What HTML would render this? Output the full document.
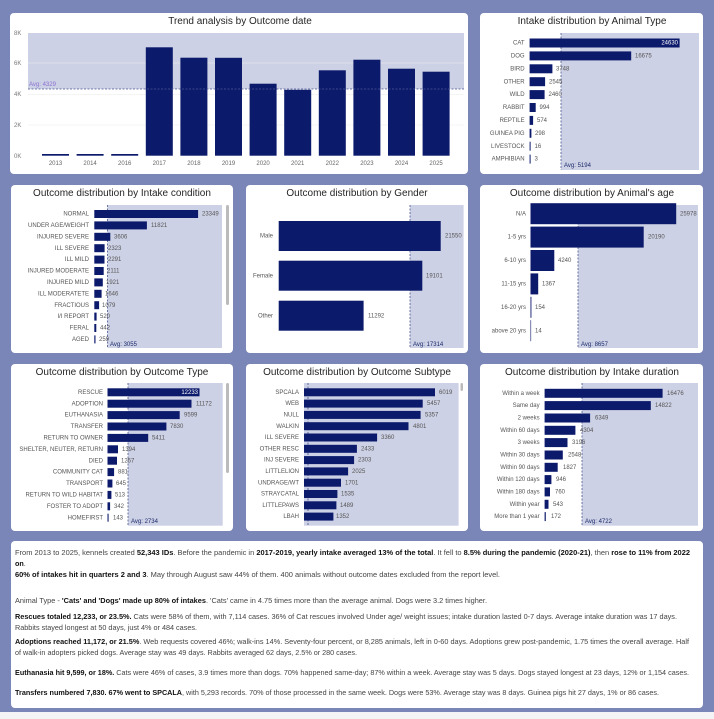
<!DOCTYPE html>
<html><head><meta charset="utf-8"><style>
html,body{margin:0;padding:0;background:#7b86b8;}
svg{display:block;font-family:"Liberation Sans",sans-serif;}
.t{font-size:10px;fill:#252525;text-anchor:middle}
.l{font-size:6px;fill:#555;text-anchor:end;dominant-baseline:middle}
.v{font-size:6px;fill:#555;dominant-baseline:middle}
.w{font-size:6px;fill:#fff;text-anchor:end;dominant-baseline:middle}
.a{font-size:6px;fill:#1a2a6a}
.b{fill:#0c1a6c}
.s{fill:#cdd1e5}
.d{stroke:#4a5690;stroke-width:0.8;stroke-dasharray:2,1.5}
.p{font-size:7.2px;fill:#444}
.p tspan.k{font-weight:bold;fill:#111}
</style></head><body>
<svg width="714" height="719" viewBox="0 0 714 719" xmlns="http://www.w3.org/2000/svg">
<rect x="0" y="0" width="714" height="719" fill="#7b86b8"/>
<rect x="0" y="712" width="714" height="7" fill="#f4f4f6"/>
<!-- cards -->
<rect x="10" y="13" width="458" height="161" rx="4" fill="#fff"/>
<rect x="480" y="13" width="223" height="161" rx="4" fill="#fff"/>
<rect x="11" y="185" width="222" height="168" rx="4" fill="#fff"/>
<rect x="246" y="185" width="222" height="168" rx="4" fill="#fff"/>
<rect x="480" y="185" width="223" height="168" rx="4" fill="#fff"/>
<rect x="11" y="364" width="222" height="167" rx="4" fill="#fff"/>
<rect x="246" y="364" width="222" height="167" rx="4" fill="#fff"/>
<rect x="480" y="364" width="223" height="167" rx="4" fill="#fff"/>
<rect x="11" y="541" width="692" height="167" rx="4" fill="#fff"/>

<!-- Trend -->
<text class="t" x="240" y="24">Trend analysis by Outcome date</text>
<rect class="s" x="28" y="33" width="436" height="56"/>
<g stroke="#eee" stroke-width="0.6"><line x1="28" y1="63" x2="464" y2="63"/><line x1="28" y1="94.6" x2="464" y2="94.6"/><line x1="28" y1="125" x2="464" y2="125"/></g>
<g font-size="6" fill="#777"><text x="14" y="35">8K</text><text x="14" y="65">6K</text><text x="14" y="96">4K</text><text x="14" y="127">2K</text><text x="14" y="158">0K</text></g>
<g class="b">
<rect x="42" y="154" width="27" height="1.7"/><rect x="76.6" y="154" width="27" height="1.7"/><rect x="111.2" y="154" width="27" height="1.7"/>
<rect x="145.8" y="47.3" width="27" height="108.4"/><rect x="180.4" y="57.7" width="27" height="98"/><rect x="215" y="57.8" width="27" height="97.9"/>
<rect x="249.6" y="83.7" width="27" height="72"/><rect x="284.2" y="89.7" width="27" height="66"/><rect x="318.8" y="70.3" width="27" height="85.4"/>
<rect x="353.4" y="59.7" width="27" height="96"/><rect x="388" y="68.7" width="27" height="87"/><rect x="422.6" y="71.7" width="27" height="84"/>
</g>
<line class="d" x1="28" y1="89" x2="464" y2="89"/>
<text x="29" y="86" font-size="6" fill="#8a6fd0">Avg: 4329</text>
<g font-size="6" fill="#666" text-anchor="middle">
<text x="55.5" y="165">2013</text><text x="90.1" y="165">2014</text><text x="124.7" y="165">2016</text><text x="159.3" y="165">2017</text><text x="193.9" y="165">2018</text><text x="228.5" y="165">2019</text><text x="263.1" y="165">2020</text><text x="297.7" y="165">2021</text><text x="332.3" y="165">2022</text><text x="366.9" y="165">2023</text><text x="401.5" y="165">2024</text><text x="436.1" y="165">2025</text>
</g>

<!-- Animal type -->
<text class="t" x="592" y="24">Intake distribution by Animal Type</text>
<rect class="s" x="561" y="33" width="138" height="137"/>
<line class="d" x1="561" y1="33" x2="561" y2="170"/>
<g class="b">
<rect x="529.6" y="38.5" width="150" height="9"/><rect x="529.6" y="51.4" width="101.6" height="9"/><rect x="529.6" y="64.3" width="22.8" height="9"/><rect x="529.6" y="77.2" width="15.5" height="9"/><rect x="529.6" y="90.1" width="15" height="9"/><rect x="529.6" y="103" width="6.1" height="9"/><rect x="529.6" y="115.9" width="3.5" height="9"/><rect x="529.6" y="128.8" width="1.8" height="9"/><rect x="529.6" y="141.7" width="1" height="9"/><rect x="529.6" y="154.6" width="1" height="9"/>
</g>
<g class="l"><text x="524.6" y="43">CAT</text><text x="524.6" y="55.9">DOG</text><text x="524.6" y="68.8">BIRD</text><text x="524.6" y="81.7">OTHER</text><text x="524.6" y="94.6">WILD</text><text x="524.6" y="107.5">RABBIT</text><text x="524.6" y="120.4">REPTILE</text><text x="524.6" y="133.3">GUINEA PIG</text><text x="524.6" y="146.2">LIVESTOCK</text><text x="524.6" y="159.1">AMPHIBIAN</text></g>
<text class="w" x="678" y="43">24630</text>
<g class="v"><text x="635" y="55.9">16675</text><text x="556" y="68.8">3748</text><text x="549" y="81.7">2545</text><text x="548.5" y="94.6">2460</text><text x="539.5" y="107.5">994</text><text x="537" y="120.4">574</text><text x="535" y="133.3">298</text><text x="534.5" y="146.2">16</text><text x="534.5" y="159.1">3</text></g>
<text class="a" x="564" y="167">Avg: 5194</text>

<!-- Intake condition -->
<text class="t" x="122" y="196">Outcome distribution by Intake condition</text>
<rect class="s" x="107.5" y="205" width="114.5" height="143"/>
<line class="d" x1="107.5" y1="205" x2="107.5" y2="348"/>
<rect x="226" y="205" width="3" height="100" rx="1.5" fill="#bbb"/>
<g class="b">
<rect x="94.3" y="210" width="103.8" height="8"/><rect x="94.3" y="221.4" width="52.6" height="8"/><rect x="94.3" y="232.8" width="16" height="8"/><rect x="94.3" y="244.2" width="10.3" height="8"/><rect x="94.3" y="255.6" width="10.2" height="8"/><rect x="94.3" y="267" width="9.4" height="8"/><rect x="94.3" y="278.4" width="8.5" height="8"/><rect x="94.3" y="289.8" width="7.3" height="8"/><rect x="94.3" y="301.2" width="4.8" height="8"/><rect x="94.3" y="312.6" width="2.3" height="8"/><rect x="94.3" y="324" width="2" height="8"/><rect x="94.3" y="335.4" width="1.2" height="8"/>
</g>
<g class="l"><text x="89" y="214">NORMAL</text><text x="89" y="225.4">UNDER AGE/WEIGHT</text><text x="89" y="236.8">INJURED SEVERE</text><text x="89" y="248.2">ILL SEVERE</text><text x="89" y="259.6">ILL MILD</text><text x="89" y="271">INJURED MODERATE</text><text x="89" y="282.4">INJURED MILD</text><text x="89" y="293.8">ILL MODERATETE</text><text x="89" y="305.2">FRACTIOUS</text><text x="89" y="316.6">I/I REPORT</text><text x="89" y="328">FERAL</text><text x="89" y="339.4">AGED</text></g>
<g class="v"><text x="202" y="214">23349</text><text x="151" y="225.4">11821</text><text x="114" y="236.8">3606</text><text x="108" y="248.2">2323</text><text x="108" y="259.6">2291</text><text x="107" y="271">2111</text><text x="106" y="282.4">1921</text><text x="105" y="293.8">1646</text><text x="102" y="305.2">1079</text><text x="100" y="316.6">520</text><text x="100" y="328">442</text><text x="99" y="339.4">259</text></g>
<text class="a" x="110" y="346">Avg: 3055</text>

<!-- Gender -->
<text class="t" x="357" y="196">Outcome distribution by Gender</text>
<rect class="s" x="410" y="205" width="53.6" height="143"/>
<line class="d" x1="410" y1="205" x2="410" y2="348"/>
<g class="b"><rect x="278.7" y="221" width="162" height="30"/><rect x="278.7" y="260.7" width="143.6" height="30"/><rect x="278.7" y="300.7" width="84.9" height="30"/></g>
<g class="l"><text x="273" y="236">Male</text><text x="273" y="275.7">Female</text><text x="273" y="315.7">Other</text></g>
<g class="v"><text x="445" y="236">21550</text><text x="426" y="275.7">19101</text><text x="368" y="315.7">11292</text></g>
<text class="a" x="413" y="346">Avg: 17314</text>

<!-- Age -->
<text class="t" x="592" y="196">Outcome distribution by Animal's age</text>
<rect class="s" x="578" y="205" width="120" height="143"/>
<line class="d" x1="578" y1="205" x2="578" y2="348"/>
<g class="b"><rect x="530.5" y="203.2" width="145.7" height="21"/><rect x="530.5" y="226.6" width="113.2" height="21"/><rect x="530.5" y="250" width="23.8" height="21"/><rect x="530.5" y="273.4" width="7.7" height="21"/><rect x="530.5" y="296.8" width="0.9" height="21"/><rect x="530.5" y="320.2" width="0.6" height="21"/></g>
<g class="l"><text x="526" y="213.7">N/A</text><text x="526" y="237.1">1-5 yrs</text><text x="526" y="260.5">6-10 yrs</text><text x="526" y="283.9">11-15 yrs</text><text x="526" y="307.3">16-20 yrs</text><text x="526" y="330.7">above 20 yrs</text></g>
<g class="v"><text x="680" y="213.7">25978</text><text x="648" y="237.1">20190</text><text x="558" y="260.5">4240</text><text x="542" y="283.9">1367</text><text x="535" y="307.3">154</text><text x="535" y="330.7">14</text></g>
<text class="a" x="581" y="346">Avg: 8657</text>

<!-- Outcome type -->
<text class="t" x="122" y="375">Outcome distribution by Outcome Type</text>
<rect class="s" x="128" y="383" width="94.7" height="142.7"/>
<line class="d" x1="128" y1="383" x2="128" y2="525.7"/>
<rect x="226" y="383" width="3" height="90" rx="1.5" fill="#bbb"/>
<g class="b">
<rect x="107.5" y="388.3" width="92" height="8"/><rect x="107.5" y="399.7" width="84" height="8"/><rect x="107.5" y="411.1" width="72.2" height="8"/><rect x="107.5" y="422.5" width="58.9" height="8"/><rect x="107.5" y="433.9" width="40.7" height="8"/><rect x="107.5" y="445.3" width="10.5" height="8"/><rect x="107.5" y="456.7" width="9.5" height="8"/><rect x="107.5" y="468.1" width="6.6" height="8"/><rect x="107.5" y="479.5" width="4.9" height="8"/><rect x="107.5" y="490.9" width="3.9" height="8"/><rect x="107.5" y="502.3" width="2.6" height="8"/><rect x="107.5" y="513.7" width="1.1" height="8"/>
</g>
<g class="l"><text x="103" y="392.3">RESCUE</text><text x="103" y="403.7">ADOPTION</text><text x="103" y="415.1">EUTHANASIA</text><text x="103" y="426.5">TRANSFER</text><text x="103" y="437.9">RETURN TO OWNER</text><text x="103" y="449.3">SHELTER, NEUTER, RETURN</text><text x="103" y="460.7">DIED</text><text x="103" y="472.1">COMMUNITY CAT</text><text x="103" y="483.5">TRANSPORT</text><text x="103" y="494.9">RETURN TO WILD HABITAT</text><text x="103" y="506.3">FOSTER TO ADOPT</text><text x="103" y="517.7">HOMEFIRST</text></g>
<text class="w" x="198" y="392.3">12233</text>
<g class="v"><text x="196" y="403.7">11172</text><text x="184" y="415.1">9599</text><text x="170" y="426.5">7830</text><text x="152" y="437.9">5411</text><text x="122" y="449.3">1394</text><text x="121" y="460.7">1257</text><text x="118" y="472.1">881</text><text x="116" y="483.5">645</text><text x="115" y="494.9">513</text><text x="114" y="506.3">342</text><text x="113" y="517.7">143</text></g>
<text class="a" x="131" y="523">Avg: 2734</text>

<!-- Subtype -->
<text class="t" x="357" y="375">Outcome distribution by Outcome Subtype</text>
<rect class="s" x="304" y="383" width="154.6" height="142.7"/>
<line class="d" x1="308" y1="383" x2="308" y2="525.7"/>
<rect x="460.5" y="383" width="2.5" height="8" rx="1.2" fill="#bbb"/>
<g class="b">
<rect x="304" y="388.3" width="131" height="8"/><rect x="304" y="399.6" width="118.7" height="8"/><rect x="304" y="410.9" width="116.6" height="8"/><rect x="304" y="422.2" width="104.5" height="8"/><rect x="304" y="433.5" width="73.1" height="8"/><rect x="304" y="444.8" width="52.9" height="8"/><rect x="304" y="456.1" width="50.1" height="8"/><rect x="304" y="467.4" width="44.1" height="8"/><rect x="304" y="478.7" width="37" height="8"/><rect x="304" y="490" width="33.4" height="8"/><rect x="304" y="501.3" width="32.4" height="8"/><rect x="304" y="512.6" width="29.4" height="8"/>
</g>
<g class="l"><text x="299" y="392.3">SPCALA</text><text x="299" y="403.6">WEB</text><text x="299" y="414.9">NULL</text><text x="299" y="426.2">WALKIN</text><text x="299" y="437.5">ILL SEVERE</text><text x="299" y="448.8">OTHER RESC</text><text x="299" y="460.1">INJ SEVERE</text><text x="299" y="471.4">LITTLELION</text><text x="299" y="482.7">UNDRAGE/WT</text><text x="299" y="494">STRAYCATAL</text><text x="299" y="505.3">LITTLEPAWS</text><text x="299" y="516.6">LBAH</text></g>
<g class="v"><text x="439" y="392.3">6019</text><text x="427" y="403.6">5457</text><text x="425" y="414.9">5357</text><text x="413" y="426.2">4801</text><text x="381" y="437.5">3360</text><text x="361" y="448.8">2433</text><text x="358" y="460.1">2303</text><text x="352" y="471.4">2025</text><text x="345" y="482.7">1701</text><text x="341" y="494">1535</text><text x="340" y="505.3">1489</text><text x="336" y="516.6">1352</text></g>

<!-- Duration -->
<text class="t" x="592" y="375">Outcome distribution by Intake duration</text>
<rect class="s" x="582" y="383" width="116" height="142.7"/>
<line class="d" x1="582" y1="383" x2="582" y2="525.7"/>
<g class="b">
<rect x="544.6" y="388.8" width="118" height="9"/><rect x="544.6" y="401.1" width="106.2" height="9"/><rect x="544.6" y="413.5" width="45.5" height="9"/><rect x="544.6" y="425.8" width="30.8" height="9"/><rect x="544.6" y="438.1" width="22.9" height="9"/><rect x="544.6" y="450.5" width="18.2" height="9"/><rect x="544.6" y="462.8" width="13.1" height="9"/><rect x="544.6" y="475.1" width="6.8" height="9"/><rect x="544.6" y="487.4" width="5.4" height="9"/><rect x="544.6" y="499.8" width="3.9" height="9"/><rect x="544.6" y="512.1" width="1.2" height="9"/>
</g>
<g class="l"><text x="539.6" y="393.3">Within a week</text><text x="539.6" y="405.6">Same day</text><text x="539.6" y="418">2 weeks</text><text x="539.6" y="430.3">Within 60 days</text><text x="539.6" y="442.6">3 weeks</text><text x="539.6" y="455">Within 30 days</text><text x="539.6" y="467.3">Within 90 days</text><text x="539.6" y="479.6">Within 120 days</text><text x="539.6" y="491.9">Within 180 days</text><text x="539.6" y="504.3">Within year</text><text x="539.6" y="516.6">More than 1 year</text></g>
<g class="v"><text x="667" y="393.3">16476</text><text x="655" y="405.6">14822</text><text x="595" y="418">6349</text><text x="580" y="430.3">4304</text><text x="572" y="442.6">3196</text><text x="568" y="455">2548</text><text x="563" y="467.3">1827</text><text x="556" y="479.6">946</text><text x="555" y="491.9">760</text><text x="553" y="504.3">543</text><text x="551" y="516.6">172</text></g>
<text class="a" x="585" y="523">Avg: 4722</text>

<!-- Text -->
<g class="p">
<text x="15" y="555" textLength="675" lengthAdjust="spacingAndGlyphs">From 2013 to 2025, kennels created <tspan class="k">52,343 IDs</tspan>. Before the pandemic in <tspan class="k">2017-2019, yearly intake averaged 13% of the total</tspan>. It fell to <tspan class="k">8.5% during the pandemic (2020-21)</tspan>, then <tspan class="k">rose to 11% from 2022</tspan></text>
<text x="15" y="566"><tspan class="k">on</tspan>.</text>
<text x="15" y="577" textLength="485" lengthAdjust="spacingAndGlyphs"><tspan class="k">60% of intakes hit in quarters 2 and 3</tspan>. May through August saw 44% of them. 400 animals without outcome dates excluded from the report level.</text>
<text x="15" y="603" textLength="472" lengthAdjust="spacingAndGlyphs">Animal Type - <tspan class="k">'Cats' and 'Dogs' made up 80% of intakes</tspan>. 'Cats' came in 4.75 times more than the average animal. Dogs were 3.2 times higher.</text>
<text x="15" y="619" textLength="662" lengthAdjust="spacingAndGlyphs"><tspan class="k">Rescues totaled 12,233, or 23.5%.</tspan> Cats were 58% of them, with 7,114 cases. 36% of Cat rescues involved Under age/ weight issues; intake duration lasted 0-7 days. Average intake duration was 17 days.</text>
<text x="15" y="630" textLength="182" lengthAdjust="spacingAndGlyphs">Rabbits stayed longest at 50 days, just 4% or 484 cases.</text>
<text x="15" y="644" textLength="674" lengthAdjust="spacingAndGlyphs"><tspan class="k">Adoptions reached 11,172, or 21.5%</tspan>. Web requests covered 46%; walk-ins 14%. Seventy-four percent, or 8,285 animals, left in 0-60 days. Adoptions grew post-pandemic, 1.75 times the overall average. Half</text>
<text x="15" y="655" textLength="342" lengthAdjust="spacingAndGlyphs">of walk-in adopters picked dogs. Average stay was 49 days. Rabbits averaged 62 days, 2.5% or 280 cases.</text>
<text x="15" y="675" textLength="674" lengthAdjust="spacingAndGlyphs"><tspan class="k">Euthanasia hit 9,599, or 18%.</tspan> Cats were 46% of cases, 3.9 times more than dogs. 70% happened same-day; 87% within a week. Average stay was 5 days. Dogs stayed longest at 23 days, 12% or 1,154 cases.</text>
<text x="15" y="695" textLength="644" lengthAdjust="spacingAndGlyphs"><tspan class="k">Transfers numbered 7,830. 67% went to SPCALA</tspan>, with 5,293 records. 70% of those processed in the same week. Dogs were 53%. Average stay was 8 days. Guinea pigs hit 27 days, 1% or 86 cases.</text>
</g>
</svg>
</body></html>
